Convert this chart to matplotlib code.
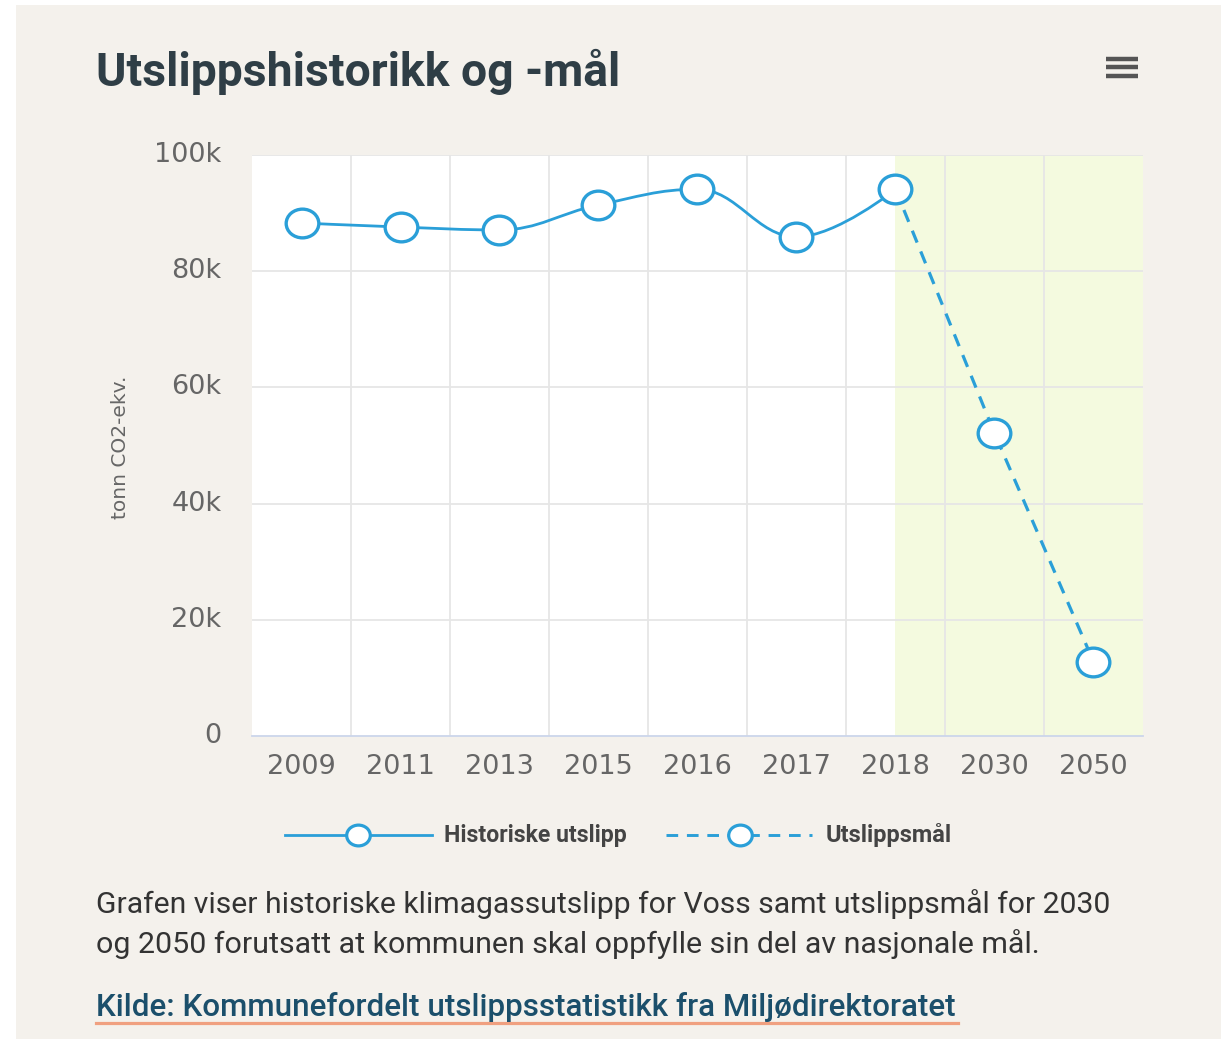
import matplotlib
matplotlib.use("Agg")
import matplotlib.pyplot as plt
from matplotlib.path import Path
from matplotlib.patches import PathPatch, Rectangle
from matplotlib.lines import Line2D
from matplotlib import font_manager as fm
import matplotlib.transforms as mtransforms

# ---------------- data ----------------
categories = ["2009", "2011", "2013", "2015", "2016", "2017", "2018", "2030", "2050"]
historic = [88300, 87600, 87100, 91400, 94100, 85900, 94100]          # 2009..2018
target_cats = ["2018", "2030", "2050"]
target = [94100, 52100, 12800]
y_ticks = [0, 20000, 40000, 60000, 80000, 100000]
y_labels = ["0", "20k", "40k", "60k", "80k", "100k"]
title = "Utslippshistorikk og -mål"
y_title = "tonn CO2-ekv."
legend_labels = ["Historiske utslipp", "Utslippsmål"]
desc_lines = ["Grafen viser historiske klimagassutslipp for Voss samt utslippsmål for 2030",
              "og 2050 forutsatt at kommunen skal oppfylle sin del av nasjonale mål."]
source = "Kilde: Kommunefordelt utslippsstatistikk fra Miljødirektoratet"

# ---------------- style ----------------
W, H = 1227, 1039
BG = "#F4F1EC"
BLUE = "#2A9FD8"
BAND = "#F4FADF"
GRID = "#E6E6E6"


def has_font(name):
    try:
        fm.findfont(fm.FontProperties(family=name), fallback_to_default=False)
        return True
    except Exception:
        return False

NARROW = "Liberation Sans Narrow" if has_font("Liberation Sans Narrow") else "Roboto"

fig = plt.figure(figsize=(W / 100, H / 100), dpi=100, facecolor="white")
fig.patches.append(Rectangle((16 / W, 0), (1221 - 16) / W, 1 - 5 / H,
                             transform=fig.transFigure, facecolor=BG,
                             edgecolor="none", zorder=-10))

L, R, T, B = 252, 1143, 155, 736
ax = fig.add_axes([L / W, 1 - B / H, (R - L) / W, (B - T) / H])
ax.set_facecolor("white")
ax.set_xlim(-0.5, len(categories) - 0.5)
ax.set_ylim(0, 100000)

# plot band
ax.axvspan(categories.index("2018"), len(categories) - 0.5, color=BAND, zorder=0, lw=0)

# grid
for yv in y_ticks[1:]:
    ax.axhline(yv, color=GRID, lw=1.3, zorder=1)
for k in range(1, len(categories)):
    ax.axvline(k - 0.5, color=GRID, lw=1.3, zorder=1)
for s in ["top", "right", "left"]:
    ax.spines[s].set_visible(False)
ax.spines["bottom"].set_color("#CCD6EB")
ax.spines["bottom"].set_linewidth(1.3)

ax.set_yticks(y_ticks)
ax.set_yticklabels(y_labels)
ax.set_xticks(range(len(categories)))
ax.set_xticklabels(categories)
ax.tick_params(axis="both", length=0, colors="#666666", labelsize=19.5)
ax.tick_params(axis="y", pad=22)
ax.tick_params(axis="x", pad=13)
for lab in ax.get_yticklabels():
    lab.set_transform(lab.get_transform() + mtransforms.ScaledTranslation(0, 3 / 100, fig.dpi_scale_trans))

# ---------------- spline (Highcharts-like) ----------------
def spline_path(xs, ys, smoothing=1.5):
    n = len(xs)
    denom = smoothing + 1
    lc = [None] * n
    rc = [None] * n
    for i in range(1, n - 1):
        px, py = xs[i], ys[i]
        lx, ly = xs[i - 1], ys[i - 1]
        nx, ny = xs[i + 1], ys[i + 1]
        lcx = (smoothing * px + lx) / denom
        lcy = (smoothing * py + ly) / denom
        rcx = (smoothing * px + nx) / denom
        rcy = (smoothing * py + ny) / denom
        corr = 0
        if rcx != lcx:
            corr = ((rcy - lcy) * (rcx - px)) / (rcx - lcx) + py - rcy
        lcy += corr
        rcy += corr
        if lcy > ly and lcy > py:
            lcy = max(ly, py); rcy = 2 * py - lcy
        elif lcy < ly and lcy < py:
            lcy = min(ly, py); rcy = 2 * py - lcy
        if rcy > ny and rcy > py:
            rcy = max(ny, py); lcy = 2 * py - rcy
        elif rcy < ny and rcy < py:
            rcy = min(ny, py); lcy = 2 * py - rcy
        lc[i] = (lcx, lcy)
        rc[i] = (rcx, rcy)
    verts = [(xs[0], ys[0])]
    codes = [Path.MOVETO]
    for i in range(1, n):
        c1 = rc[i - 1] if rc[i - 1] is not None else (xs[i - 1], ys[i - 1])
        c2 = lc[i] if lc[i] is not None else (xs[i], ys[i])
        verts += [c1, c2, (xs[i], ys[i])]
        codes += [Path.CURVE4] * 3
    return Path(verts, codes)

hx = [categories.index(c) for c in categories[:len(historic)]]
tx = [categories.index(c) for c in target_cats]

ax.add_patch(PathPatch(spline_path(hx, historic), facecolor="none",
                       edgecolor=BLUE, lw=2.0, zorder=3, capstyle="round"))
ax.plot(tx, target, color=BLUE, lw=2.3, dashes=(4, 3), zorder=3)

# elliptical marker (source image slightly stretched horizontally)
circ = Path.unit_circle()
mk = Path(circ.vertices * [1.0, 0.88], circ.codes)
MS = 23.5
ax.plot(hx, historic, linestyle="none", marker=mk, ms=MS, mfc="white",
        mec=BLUE, mew=2.4, zorder=4, clip_on=False)
ax.plot(tx[1:], target[1:], linestyle="none", marker=mk, ms=MS, mfc="white",
        mec=BLUE, mew=2.4, zorder=4, clip_on=False)

# ---------------- texts ----------------
renderer = fig.canvas.get_renderer()

def fit_text(x, y, s, target_w, **kw):
    t = fig.text(x / W, 1 - y / H, s, **kw)
    w = t.get_window_extent(renderer).width
    t.set_fontsize(t.get_fontsize() * target_w / w)
    return t

# y-axis title (rotated) – fit its length to the reference
yt = fig.text(120 / W, 1 - 447 / H, y_title, rotation=90, ha="center", va="center",
              fontsize=12, color="#666666")
hgt = yt.get_window_extent(renderer).height
yt.set_fontsize(12 * 142 / hgt)

fit_text(96, 86, title, 524, family=NARROW, weight="bold", color="#2F3E46",
         fontsize=28, va="baseline")
fit_text(96, 913, desc_lines[0], 1014, family=NARROW, color="#333333",
         fontsize=20, va="baseline")
fit_text(96, 953, desc_lines[1], 944, family=NARROW, color="#333333",
         fontsize=20, va="baseline")
fit_text(96, 1016, source, 861, family=NARROW, color="#1B4F6B", weight="medium",
         fontsize=20, va="baseline")
fig.add_artist(Line2D([96 / W, 958 / W], [1 - 1022.5 / H] * 2, color="#F0A080",
                      lw=2.3, transform=fig.transFigure))

# hamburger icon
for yy in [59, 67, 76]:
    fig.add_artist(Line2D([1106 / W, 1138 / W], [1 - yy / H] * 2, color="#555555",
                          lw=3.2, transform=fig.transFigure, solid_capstyle="butt"))

# ---------------- legend (manual) ----------------
ly = 1 - 835 / H
fig.add_artist(Line2D([285 / W, 432 / W], [ly, ly], color=BLUE, lw=2.0,
                      transform=fig.transFigure))
fig.add_artist(Line2D([358 / W], [ly], linestyle="none", marker=mk, ms=17,
                      mfc="white", mec=BLUE, mew=2.3, transform=fig.transFigure))
fit_text(444, 842, legend_labels[0], 183, family=NARROW, weight="bold",
         color="#444444", fontsize=14, va="baseline")
fig.add_artist(Line2D([666 / W, 812 / W], [ly, ly], color=BLUE, lw=2.1,
                      dashes=(4, 3), transform=fig.transFigure))
fig.add_artist(Line2D([740 / W], [ly], linestyle="none", marker=mk, ms=17,
                      mfc="white", mec=BLUE, mew=2.3, transform=fig.transFigure))
fit_text(826, 842, legend_labels[1], 126, family=NARROW, weight="bold",
         color="#444444", fontsize=14, va="baseline")

fig.savefig("out.png", dpi=100, facecolor=fig.get_facecolor())
